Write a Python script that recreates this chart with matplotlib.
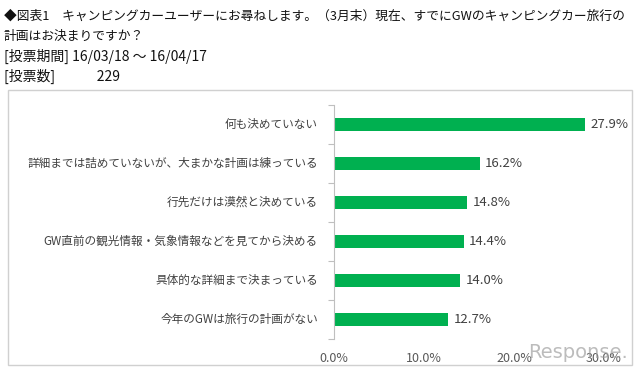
import matplotlib.pyplot as plt
from matplotlib.patches import Rectangle

plt.rcParams['font.family'] = ['Noto Sans CJK JP', 'DejaVu Sans']

# data (top to bottom as shown)
categories = [
    "何も決めていない",
    "詳細までは詰めていないが、大まかな計画は練っている",
    "行先だけは漠然と決めている",
    "GW直前の観光情報・気象情報などを見てから決める",
    "具体的な詳細まで決まっている",
    "今年のGWは旅行の計画がない",
]
values = [27.9, 16.2, 14.8, 14.4, 14.0, 12.7]
xticks = [0, 10, 20, 30]

title_lines = [
    "◆図表1　キャンピングカーユーザーにお尋ねします。（3月末）現在、すでにGWのキャンピングカー旅行の",
    "計画はお決まりですか？",
    "[投票期間] 16/03/18 ～ 16/04/17",
    "[投票数]　　　229",
]
title_sizes = [9.2, 9.2, 10, 10]

W, H = 640, 373
fig = plt.figure(figsize=(W / 100, H / 100), dpi=100)

# frame around chart area
fig.patches.append(Rectangle((8 / W, 1 - 365 / H), 624 / W, 275 / H,
                             transform=fig.transFigure, fill=False,
                             edgecolor="#d0d0d0", linewidth=1))

ys = [16, 36, 56, 76]
for line, y, fs in zip(title_lines, ys, title_sizes):
    fig.text(4 / W, 1 - y / H, line, fontsize=fs, color="#111111",
             va="center", ha="left")

ax = fig.add_axes([334 / W, 1 - 339 / H, 270 / W, 234 / H])
pos = list(range(len(categories)))
ax.barh(pos, values, height=0.34, color="#00b050")
ax.set_xlim(0, 30)
ax.set_ylim(len(categories) - 0.5, -0.5)

for p, v in zip(pos, values):
    ax.text(v + 0.6, p, f"{v:.1f}%", va="center", ha="left",
            fontsize=9.5, color="#404040")

ax.set_yticks([p - 0.5 for p in pos] + [len(pos) - 0.5])
ax.set_yticklabels([])
ax.tick_params(axis="y", length=4, color="#bfbfbf", direction="out")
for p, c in zip(pos, categories):
    ax.text(-16 / 9, p, c, va="center", ha="right", fontsize=8.4,
            color="#404040")

ax.set_xticks(xticks)
ax.set_xticklabels([f"{t:.1f}%" for t in xticks], fontsize=9,
                   color="#595959")
ax.tick_params(axis="x", length=0, pad=9)

for s in ["top", "right", "bottom"]:
    ax.spines[s].set_visible(False)
ax.spines["left"].set_color("#bfbfbf")

# watermark
fig.text(628 / W, 1 - 352 / H, "Response.", fontsize=14, color="#a0a0a0",
         alpha=0.7, ha="right", va="center", family="DejaVu Sans")

fig.savefig("out.png", dpi=100)
